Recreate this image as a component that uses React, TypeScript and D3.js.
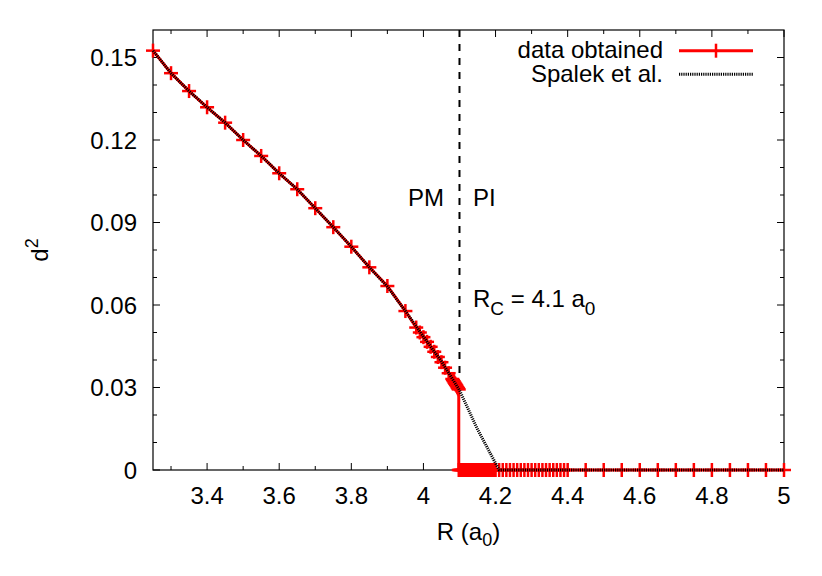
import React from "react";
import * as d3 from "d3";

// ---- data ----
const dataR: number[] = [
  3.25, 3.3, 3.35, 3.4, 3.45, 3.5, 3.55, 3.6, 3.65, 3.7, 3.75, 3.8, 3.85, 3.9, 3.95,
  3.98, 3.99, 4.0, 4.01, 4.02, 4.03, 4.04, 4.05, 4.06, 4.07, 4.08,
  4.082, 4.084, 4.086, 4.088, 4.09, 4.092, 4.094, 4.096, 4.098,
  4.098, 4.1, 4.102, 4.104, 4.106, 4.108, 4.11, 4.112, 4.114, 4.116, 4.118, 4.12,
  4.122, 4.124, 4.126, 4.128, 4.13, 4.132, 4.134, 4.136, 4.138, 4.14,
  4.142, 4.144, 4.146, 4.148, 4.15, 4.152, 4.154, 4.156, 4.158, 4.16,
  4.162, 4.164, 4.166, 4.168, 4.17, 4.172, 4.174, 4.176, 4.178, 4.18,
  4.182, 4.184, 4.186, 4.188, 4.19, 4.192, 4.194, 4.196, 4.198, 4.2,
  4.21, 4.22, 4.23, 4.24, 4.25, 4.26, 4.27, 4.28, 4.29, 4.3,
  4.31, 4.32, 4.33, 4.34, 4.35, 4.36, 4.37, 4.38, 4.39, 4.4,
  4.45, 4.5, 4.55, 4.6, 4.65, 4.7, 4.75, 4.8, 4.85, 4.9, 4.95, 5.0,
];
const dataD2: number[] = [
  0.1525, 0.1443, 0.1378, 0.1319, 0.1263, 0.12, 0.1142, 0.1079, 0.1021, 0.0952, 0.0883, 0.0812, 0.0737, 0.0669, 0.0578,
  0.0518, 0.05, 0.0483, 0.0466, 0.0448, 0.043, 0.0411, 0.0392, 0.0372, 0.0352, 0.0331,
  0.0327, 0.0323, 0.0318, 0.0314, 0.031, 0.0306, 0.0301, 0.0297, 0.0293,
  0, 0, 0, 0, 0, 0, 0, 0, 0, 0, 0, 0,
  0, 0, 0, 0, 0, 0, 0, 0, 0, 0,
  0, 0, 0, 0, 0, 0, 0, 0, 0, 0,
  0, 0, 0, 0, 0, 0, 0, 0, 0, 0,
  0, 0, 0, 0, 0, 0, 0, 0, 0, 0,
  0, 0, 0, 0, 0, 0, 0, 0, 0, 0,
  0, 0, 0, 0, 0, 0, 0, 0, 0, 0,
  0, 0, 0, 0, 0, 0, 0, 0, 0, 0, 0, 0,
];

const spalekR: number[] = [3.25, 3.3, 3.35, 3.4, 3.45, 3.5, 3.55, 3.6, 3.65, 3.7, 3.75, 3.8, 3.85, 3.9, 3.95, 4.0, 4.05, 4.1, 4.15, 4.21, 4.5, 5.0];
const spalekD2: number[] = [0.1525, 0.1443, 0.1378, 0.1319, 0.1263, 0.12, 0.1142, 0.1079, 0.1021, 0.0952, 0.0883, 0.0812, 0.0737, 0.0667, 0.0578, 0.0485, 0.0395, 0.029, 0.0148, 0, 0, 0];

const xMajorTicks: number[] = [3.4, 3.6, 3.8, 4.0, 4.2, 4.4, 4.6, 4.8, 5.0];
const xTickLabels: string[] = ["3.4", "3.6", "3.8", "4", "4.2", "4.4", "4.6", "4.8", "5"];
const xMinorTicks: number[] = [3.3, 3.5, 3.7, 3.9, 4.1, 4.3, 4.5, 4.7, 4.9];
const yMajorTicks: number[] = [0, 0.03, 0.06, 0.09, 0.12, 0.15];
const yTickLabels: string[] = ["0", "0.03", "0.06", "0.09", "0.12", "0.15"];
const yMinorTicks: number[] = [0.01, 0.02, 0.04, 0.05, 0.07, 0.08, 0.1, 0.11, 0.13, 0.14];

const criticalR = 4.1;
const dashTop = 0.16;
const dashBottom = 0.034;

const FONT = "'Liberation Sans', Arial, Helvetica, sans-serif";

export default function App() {
  const left = 153, right = 784, top = 30, bottom = 470;
  const x = d3.scaleLinear().domain([3.25, 5]).range([left, right]);
  const y = d3.scaleLinear().domain([0, 0.16]).range([bottom, top]);

  const pts = dataR.map((r, i) => [r, dataD2[i]] as [number, number]);
  const spts = spalekR.map((r, i) => [r, spalekD2[i]] as [number, number]);
  const line = d3.line<[number, number]>().x((d) => x(d[0])).y((d) => y(d[1]));

  const maj = 7, min = 4;
  const red = "#ff0000";
  const ms = 7;

  return (
    <svg width={822} height={576} style={{ position: "absolute", left: 0, top: 0, background: "#fff" }} fontFamily={FONT}>
      <rect x={0} y={0} width={822} height={576} fill="#fff" />
      {/* ticks */}
      <g stroke="#000" strokeWidth={1}>
        {xMajorTicks.map((t) => (
          <g key={"xM" + t}>
            <line x1={x(t)} x2={x(t)} y1={bottom} y2={bottom - maj} />
            <line x1={x(t)} x2={x(t)} y1={top} y2={top + maj} />
          </g>
        ))}
        {xMinorTicks.map((t) => (
          <g key={"xm" + t}>
            <line x1={x(t)} x2={x(t)} y1={bottom} y2={bottom - min} />
            <line x1={x(t)} x2={x(t)} y1={top} y2={top + min} />
          </g>
        ))}
        {yMajorTicks.map((t) => (
          <g key={"yM" + t}>
            <line x1={left} x2={left + maj} y1={y(t)} y2={y(t)} />
            <line x1={right} x2={right - maj} y1={y(t)} y2={y(t)} />
          </g>
        ))}
        {yMinorTicks.map((t) => (
          <g key={"ym" + t}>
            <line x1={left} x2={left + min} y1={y(t)} y2={y(t)} />
            <line x1={right} x2={right - min} y1={y(t)} y2={y(t)} />
          </g>
        ))}
      </g>
      <rect x={left} y={top} width={right - left} height={bottom - top} fill="none" stroke="#000" strokeWidth={1.2} />

      {/* tick labels */}
      <g fontSize={24} fill="#000">
        {xMajorTicks.map((t, i) => (
          <text key={"xl" + t} x={x(t)} y={504} textAnchor="middle">{xTickLabels[i]}</text>
        ))}
        {yMajorTicks.map((t, i) => (
          <text key={"yl" + t} x={137} y={y(t) + 8.5} textAnchor="end">{yTickLabels[i]}</text>
        ))}
      </g>

      {/* axis titles */}
      <text x={(left + right) / 2} y={540} fontSize={24} textAnchor="middle">
        R (a<tspan fontSize={18} dy={6}>0</tspan><tspan dy={-6}>)</tspan>
      </text>
      <text transform={`translate(48, ${(top + bottom) / 2}) rotate(-90)`} fontSize={24} textAnchor="middle">
        d<tspan fontSize={18} dy={-10}>2</tspan>
      </text>

      {/* dashed critical line */}
      <line x1={x(criticalR)} x2={x(criticalR)} y1={y(dashTop)} y2={y(dashBottom)} stroke="#000" strokeWidth={2} strokeDasharray="7,7" />

      {/* red data */}
      <path d={line(pts) || ""} fill="none" stroke={red} strokeWidth={3} />
      <g stroke={red} strokeWidth={2.5}>
        {pts.map((p, i) => (
          <g key={"m" + i}>
            <line x1={x(p[0]) - ms} x2={x(p[0]) + ms} y1={y(p[1])} y2={y(p[1])} />
            <line x1={x(p[0])} x2={x(p[0])} y1={y(p[1]) - ms} y2={y(p[1]) + ms} />
          </g>
        ))}
      </g>

      {/* Spalek */}
      <path d={line(spts) || ""} fill="none" stroke="#000" strokeWidth={3} strokeDasharray="1.2,1" />

      {/* annotations */}
      <g fontSize={24} fill="#000">
        <text x={408} y={206}>PM</text>
        <text x={473} y={206}>PI</text>
        <text x={473} y={307}>
          R<tspan fontSize={19} dy={8}>C</tspan><tspan dy={-8}> = 4.1 a</tspan><tspan fontSize={19} dy={8}>0</tspan>
        </text>
      </g>

      {/* legend */}
      <g fontSize={24} fill="#000">
        <text x={663} y={58.3} textAnchor="end">data obtained</text>
        <line x1={679} x2={753} y1={50.7} y2={50.7} stroke={red} strokeWidth={3} />
        <line x1={716} x2={716} y1={50.7 - ms} y2={50.7 + ms} stroke={red} strokeWidth={2.5} />
        <text x={663} y={81.9} textAnchor="end">Spalek et al.</text>
        <line x1={679} x2={753} y1={74.3} y2={74.3} stroke="#000" strokeWidth={3} strokeDasharray="1.2,1" />
      </g>
    </svg>
  );
}
